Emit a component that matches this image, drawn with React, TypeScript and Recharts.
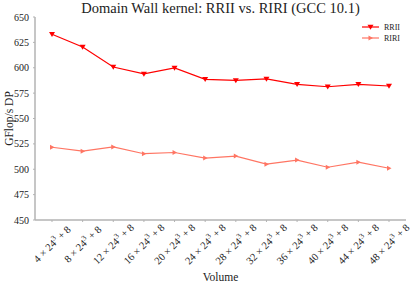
import React from "react";
import { LineChart, Line, XAxis, YAxis } from "recharts";

const volumes = [4, 8, 12, 16, 20, 24, 28, 32, 36, 40, 44, 48];
const volumeLabels = volumes.map((v) => `${v} × 24³ + 8`);
const rriiValues = [633, 620.4, 600.7, 594, 599.8, 588.6, 587.6, 589, 583.7, 581.3, 583.7, 582];
const ririValues = [521.7, 517.8, 522, 515.3, 516.5, 511, 513, 505, 509, 502, 507, 501];
const yTicks = [450, 475, 500, 525, 550, 575, 600, 625, 650];

const RRII_COLOR = "#ff0000";
const RIRI_COLOR = "#ff7563";
const AXIS_COLOR = "#b3b3b3";
const FONT = "'Liberation Serif', 'DejaVu Serif', serif";

const data = volumeLabels.map((vol, i) => ({
  vol,
  RRII: rriiValues[i],
  RIRI: ririValues[i],
}));

function DownTriangle(props: any) {
  const { cx, cy } = props;
  if (cx == null || cy == null) return null;
  return (
    <path
      d={`M${cx - 3},${cy - 2.2} L${cx + 3},${cy - 2.2} L${cx},${cy + 2.8} Z`}
      fill={RRII_COLOR}
    />
  );
}

function RightTriangle(props: any) {
  const { cx, cy } = props;
  if (cx == null || cy == null) return null;
  return (
    <path
      d={`M${cx - 2},${cy - 2.5} L${cx + 2.5},${cy} L${cx - 2},${cy + 2.5} Z`}
      fill={RIRI_COLOR}
    />
  );
}

// rotated label, centred under the tick like matplotlib's ha="center"
function VolumeTick(props: any) {
  const { x, y, payload } = props;
  const [head, tail] = String(payload.value).split("³");
  return (
    <text
      transform={`translate(${x},${y + 20}) rotate(-45)`}
      textAnchor="middle"
      dominantBaseline="central"
      fontSize={10.5}
      fontFamily={FONT}
      fill="#222"
    >
      {head}
      <tspan fontSize={7.5} dy={-4}>3</tspan>
      <tspan dy={4}>{tail}</tspan>
    </text>
  );
}

export default function App() {
  return (
    <div style={{ position: "absolute", left: 0, top: 0, width: 415, height: 287, background: "#fff" }}>
      <div
        style={{
          position: "absolute",
          left: 35,
          width: 371,
          top: 0,
          textAlign: "center",
          fontFamily: FONT,
          fontSize: 14.5,
          lineHeight: "16px",
          color: "#222",
        }}
      >
        Domain Wall kernel: RRII vs. RIRI (GCC 10.1)
      </div>

      <LineChart width={415} height={287} data={data} margin={{ top: 17, right: 9, bottom: 0, left: 0 }}>
        <XAxis
          dataKey="vol"
          height={67}
          padding={{ left: 17, right: 17 }}
          axisLine={{ stroke: AXIS_COLOR, strokeWidth: 1.5 }}
          tickLine={{ stroke: AXIS_COLOR }}
          tickSize={2}
          tickMargin={2}
          interval={0}
          tick={<VolumeTick />}
          label={{
            content: (p: any) => (
              <text
                x={p.viewBox.x + p.viewBox.width / 2}
                y={p.viewBox.y + 57}
                textAnchor="middle"
                dominantBaseline="central"
                fontSize={11.5}
                fontFamily={FONT}
                fill="#222"
              >
                Volume
              </text>
            ),
          }}
        />
        <XAxis
          xAxisId="top"
          dataKey="vol"
          orientation="top"
          height={0}
          tick={false}
          tickLine={false}
          axisLine={{ stroke: AXIS_COLOR, strokeWidth: 1.5 }}
        />
        <YAxis
          width={35}
          domain={[450, 650]}
          ticks={yTicks}
          interval={0}
          axisLine={{ stroke: AXIS_COLOR, strokeWidth: 1.5 }}
          tickLine={{ stroke: AXIS_COLOR }}
          tickSize={2}
          tickMargin={4}
          tick={{ fontSize: 10, fontFamily: FONT, fill: "#222" }}
          label={{
            content: (p: any) => (
              <text
                transform={`translate(${p.viewBox.x + 9},${p.viewBox.y + p.viewBox.height / 2}) rotate(-90)`}
                textAnchor="middle"
                dominantBaseline="central"
                fontSize={11.5}
                fontFamily={FONT}
                fill="#222"
              >
                GFlop/s DP
              </text>
            ),
          }}
        />
        <YAxis
          yAxisId="right"
          orientation="right"
          width={0}
          domain={[450, 650]}
          tick={false}
          tickLine={false}
          axisLine={{ stroke: AXIS_COLOR, strokeWidth: 1.5 }}
        />
        <Line
          dataKey="RRII"
          stroke={RRII_COLOR}
          strokeWidth={1.2}
          type="linear"
          dot={<DownTriangle />}
          isAnimationActive={false}
        />
        <Line
          dataKey="RIRI"
          stroke={RIRI_COLOR}
          strokeWidth={1.2}
          type="linear"
          dot={<RightTriangle />}
          isAnimationActive={false}
        />
      </LineChart>

      <svg style={{ position: "absolute", left: 360, top: 20 }} width={45} height={26}>
        <line x1={2} y1={7} x2={19} y2={7} stroke={RRII_COLOR} strokeWidth={1.2} />
        <path d="M7.5,4.8 L13.5,4.8 L10.5,9.8 Z" fill={RRII_COLOR} />
        <text x={24} y={7} dominantBaseline="central" fontSize={8} fontFamily={FONT} fill="#222">
          RRII
        </text>
        <line x1={2} y1={18} x2={19} y2={18} stroke={RIRI_COLOR} strokeWidth={1.2} />
        <path d="M8.5,15.5 L13,18 L8.5,20.5 Z" fill={RIRI_COLOR} />
        <text x={24} y={18} dominantBaseline="central" fontSize={8} fontFamily={FONT} fill="#222">
          RIRI
        </text>
      </svg>
    </div>
  );
}
